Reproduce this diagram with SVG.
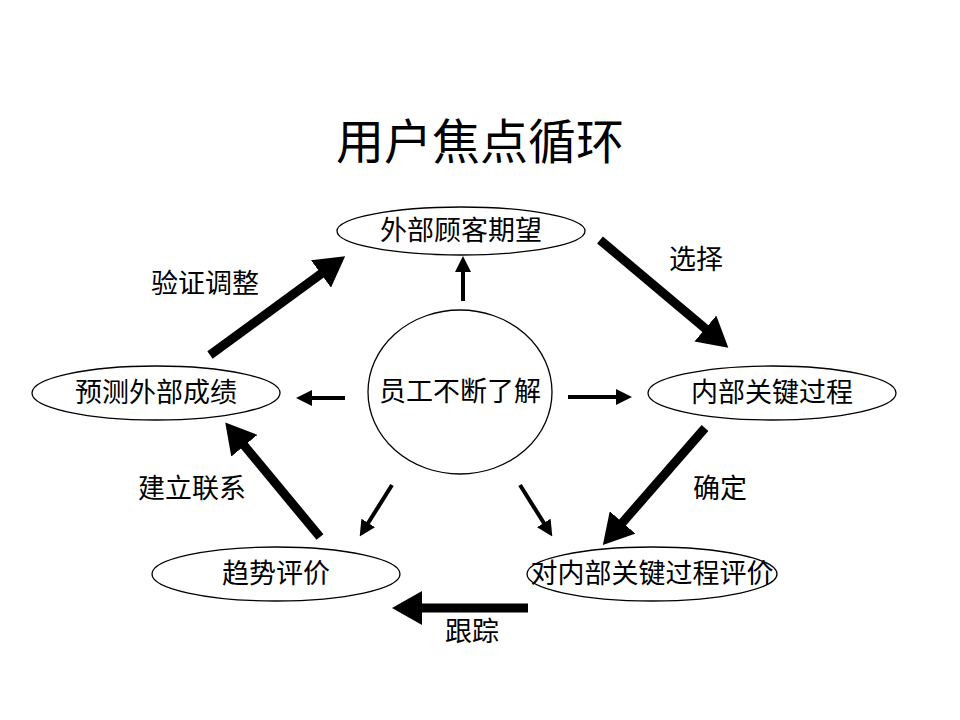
<svg xmlns="http://www.w3.org/2000/svg" width="960" height="720" viewBox="0 0 960 720">
<style>
.n{fill:#fff;stroke:#000;stroke-width:1.3}
.t{font-family:"Liberation Serif","Noto Sans CJK SC",serif;font-size:27px;fill:#000;text-anchor:middle;dominant-baseline:central}
.title{font-family:"Liberation Serif","Noto Sans CJK SC",serif;font-size:48px;fill:#000;text-anchor:middle;dominant-baseline:central}
.thick{stroke:#000;stroke-width:9;fill:none;marker-end:url(#hb)}
.thin{stroke:#000;stroke-width:4;fill:none;marker-end:url(#hs)}
</style>
<defs>
<marker id="hb" markerUnits="userSpaceOnUse" markerWidth="30" markerHeight="34" refX="10" refY="17" orient="auto"><path d="M0,0 L30,17 L0,34 z" fill="#000"/></marker>
<marker id="hs" markerUnits="userSpaceOnUse" markerWidth="16" markerHeight="16" refX="6" refY="8" orient="auto"><path d="M0,0 L16,8 L0,16 z" fill="#000"/></marker>
</defs>
<rect width="960" height="720" fill="#fff"/>
<text class="title" x="480" y="142">用户焦点循环</text>
<g id="connectors">
<line class="thick" x1="210" y1="355" x2="329" y2="268"/>
<line class="thick" x1="600" y1="240" x2="713" y2="335"/>
<line class="thick" x1="705" y1="428" x2="616" y2="530"/>
<line class="thick" x1="320" y1="537" x2="238" y2="438"/>
<line class="thick" x1="528" y1="608" x2="412" y2="608"/>
<line class="thin" x1="463" y1="301" x2="463" y2="266"/>
<line class="thin" x1="345" y1="398" x2="306" y2="398"/>
<line class="thin" x1="568" y1="397" x2="622" y2="397"/>
<line class="thin" x1="392" y1="485" x2="365" y2="528"/>
<line class="thin" x1="520" y1="485" x2="547" y2="528"/>
<text class="t" x="205" y="284">验证调整</text>
<text class="t" x="696" y="260">选择</text>
<text class="t" x="192" y="489">建立联系</text>
<text class="t" x="720" y="489">确定</text>
<text class="t" x="472" y="632">跟踪</text>
</g>
<g id="n-expect"><ellipse class="n" cx="461" cy="231" rx="124" ry="24"/><text class="t" x="461" y="231">外部顾客期望</text></g>
<g id="n-predict"><ellipse class="n" cx="156" cy="393" rx="124" ry="27"/><text class="t" x="156" y="393">预测外部成绩</text></g>
<g id="n-process"><ellipse class="n" cx="772" cy="393" rx="124" ry="27"/><text class="t" x="772" y="393">内部关键过程</text></g>
<g id="n-staff"><ellipse class="n" cx="460" cy="392" rx="92" ry="82"/><text class="t" x="460" y="392">员工不断了解</text></g>
<g id="n-trend"><ellipse class="n" cx="276" cy="574" rx="124" ry="27"/><text class="t" x="276" y="574">趋势评价</text></g>
<g id="n-eval"><ellipse class="n" cx="652" cy="574" rx="125" ry="27"/><text class="t" x="652" y="574">对内部关键过程评价</text></g>
</svg>
